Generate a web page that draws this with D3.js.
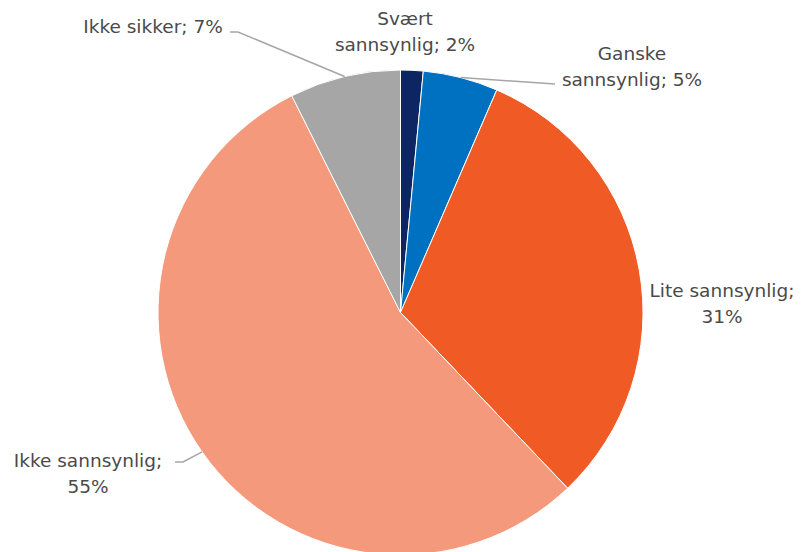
<!DOCTYPE html>
<html>
<head>
<meta charset="utf-8">
<script src="https://d3js.org/d3.v7.min.js"></script>
<style>
  body { margin: 0; background: #fff; }
  .lbl { font-family: "DejaVu Sans", sans-serif; font-size: 18.5px; fill: #4a4a4a; }
  .leader { fill: none; stroke: #a6a6a6; stroke-width: 1.5; }
</style>
</head>
<body>
<div id="chart"></div>
<script>
// data
var categories = ["Svært sannsynlig", "Ganske sannsynlig", "Lite sannsynlig", "Ikke sannsynlig", "Ikke sikker"];
var values = [1.5, 5.0, 31.4, 54.7, 7.4];
var percentLabels = ["2%", "5%", "31%", "55%", "7%"];
var colors = ["#0d2560", "#0070c0", "#f05a24", "#f4997b", "#a6a6a6"];

// label layout: lines of text, anchor x/y for text, and leader line elbow (or null)
var labelLayout = [
  { lines: ["Svært", "sannsynlig; 2%"], x: 405, y: 25, leader: null },
  { lines: ["Ganske", "sannsynlig; 5%"], x: 632, y: 60, leader: [[555, 84]] },
  { lines: ["Lite sannsynlig;", "31%"], x: 722, y: 297, leader: null },
  { lines: ["Ikke sannsynlig;", "55%"], x: 88, y: 467, leader: [[183, 462], [175, 462]] },
  { lines: ["Ikke sikker; 7%"], x: 153, y: 33, leader: [[238, 32], [230, 32]] }
];

var width = 803, height = 552;
var cx = 400.5, cy = 312.5, r = 242.5;

var svg = d3.select("#chart").append("svg")
  .attr("width", width)
  .attr("height", height);

var g = svg.append("g").attr("transform", "translate(" + cx + "," + cy + ")");

var pie = d3.pie().sort(null).value(function(d) { return d; });
var arcs = pie(values);
var arc = d3.arc().innerRadius(0).outerRadius(r);

g.selectAll("path.slice")
  .data(arcs)
  .enter().append("path")
  .attr("class", "slice")
  .attr("d", arc)
  .attr("fill", function(d, i) { return colors[i]; })
  .attr("stroke", "#fff")
  .attr("stroke-width", 1);

// leader lines from slice edge at mid angle
arcs.forEach(function(d, i) {
  var L = labelLayout[i];
  if (!L.leader) return;
  var a = (d.startAngle + d.endAngle) / 2;
  var p0 = [cx + r * Math.sin(a), cy - r * Math.cos(a)];
  var pts = [p0].concat(L.leader);
  svg.append("path")
    .attr("class", "leader")
    .attr("d", d3.line()(pts));
});

// labels
labelLayout.forEach(function(L, i) {
  var t = svg.append("text")
    .attr("class", "lbl")
    .attr("text-anchor", "middle")
    .attr("x", L.x)
    .attr("y", L.y);
  L.lines.forEach(function(s, j) {
    t.append("tspan")
      .attr("x", L.x)
      .attr("dy", j === 0 ? 0 : 26)
      .text(s);
  });
});
</script>
</body>
</html>
